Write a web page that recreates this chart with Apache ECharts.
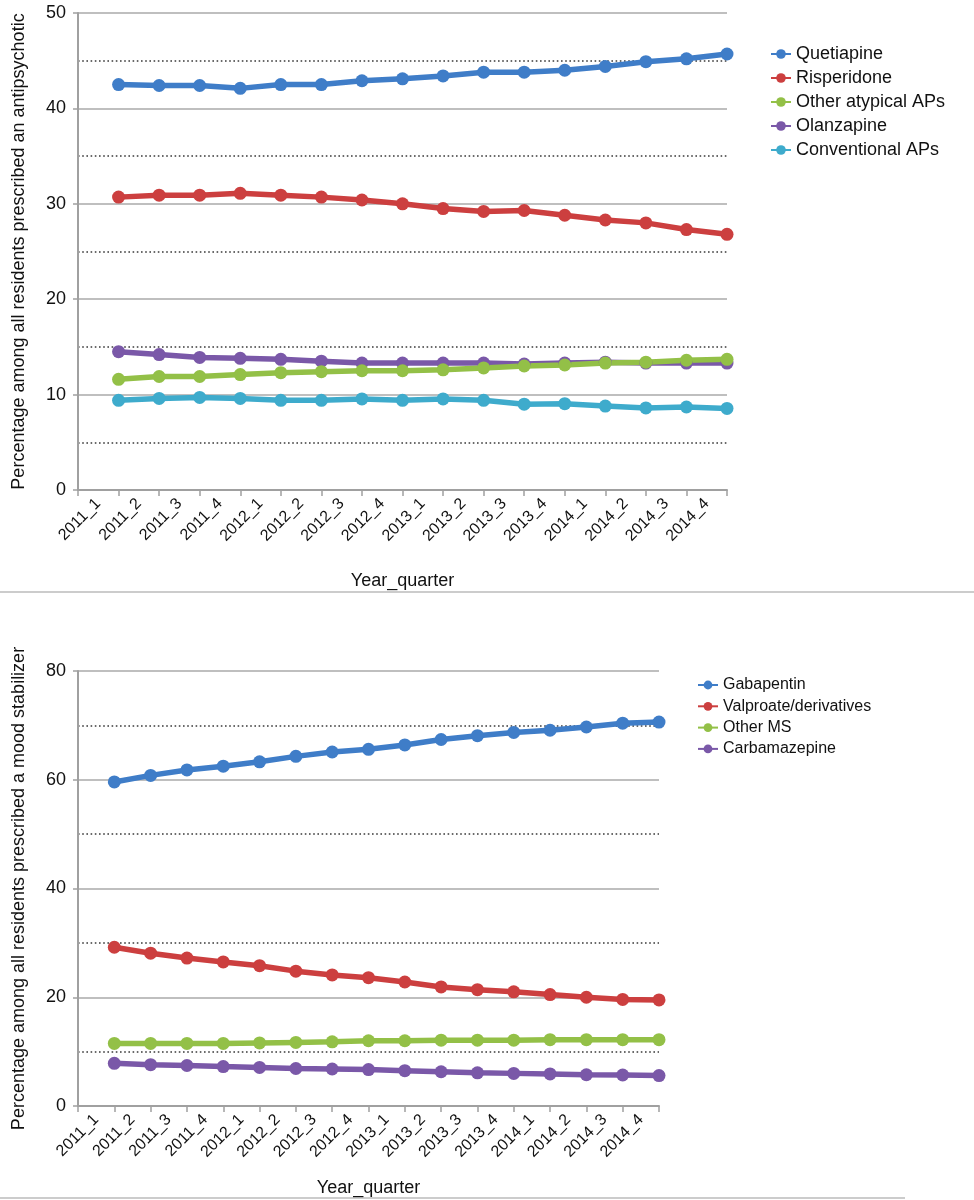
<!DOCTYPE html>
<html>
<head>
<meta charset="utf-8">
<script src="https://cdn.jsdelivr.net/npm/echarts@6/dist/echarts.min.js"></script>
<style>
html,body{margin:0;padding:0;background:#fff;}
#chart{width:974px;height:1200px;}
</style>
</head>
<body>
<div id="chart"></div>
<script>
// ---------- Data ----------
const quarters = ['2011_1','2011_2','2011_3','2011_4','2012_1','2012_2','2012_3','2012_4',
                  '2013_1','2013_2','2013_3','2013_4','2014_1','2014_2','2014_3','2014_4'];

// Top panel: antipsychotics
const apNames = ['Quetiapine','Risperidone','Other atypical APs','Olanzapine','Conventional APs'];
const quetiapine   = [42.5,42.4,42.4,42.1,42.5,42.5,42.9,43.1,43.4,43.8,43.8,44.0,44.4,44.9,45.2,45.7];
const risperidone  = [30.7,30.9,30.9,31.1,30.9,30.7,30.4,30.0,29.5,29.2,29.3,28.8,28.3,28.0,27.3,26.8];
const otherAtyp    = [11.6,11.9,11.9,12.1,12.3,12.4,12.5,12.5,12.6,12.8,13.0,13.1,13.3,13.4,13.6,13.7];
const olanzapine   = [14.5,14.2,13.9,13.8,13.7,13.5,13.3,13.3,13.3,13.3,13.2,13.3,13.4,13.3,13.3,13.3];
const conventional = [9.4,9.6,9.7,9.6,9.4,9.4,9.55,9.4,9.55,9.4,9.0,9.05,8.8,8.6,8.7,8.55];

// Bottom panel: mood stabilizers
const msNames = ['Gabapentin','Valproate/derivatives','Other MS','Carbamazepine'];
const gabapentin    = [59.6,60.8,61.8,62.5,63.3,64.3,65.1,65.6,66.4,67.4,68.1,68.7,69.1,69.7,70.4,70.6];
const valproate     = [29.2,28.1,27.2,26.5,25.8,24.8,24.1,23.6,22.8,21.9,21.4,21.0,20.5,20.0,19.6,19.5];
const otherMS       = [11.5,11.5,11.5,11.5,11.6,11.7,11.8,12.0,12.0,12.1,12.1,12.1,12.2,12.2,12.2,12.2];
const carbamazepine = [7.85,7.6,7.45,7.25,7.1,6.9,6.8,6.7,6.5,6.3,6.1,6.0,5.9,5.75,5.7,5.6];

// Axis ranges
const topYMax = 50, topYStep = 10;
const botYMax = 80, botYStep = 20;

// ---------- Styles ----------
const FONT = '"Liberation Sans", Arial, Helvetica, sans-serif';
const colors = {
  blue:'#3f7dc8', red:'#cc3f3f', green:'#93c047', purple:'#7a58a8', cyan:'#3eabcc'
};
const axisGray = '#a0a0a0';

// points placed at right boundary of each category band (as in the original)
function pts(arr){ return arr.map((v,i)=>[i+1, v]); }

function catAxis(gi, gap){
  return {
    type:'category', gridIndex:gi, data:quarters, boundaryGap:true,
    axisLine:{show:true, lineStyle:{color:axisGray, width:2}},
    axisTick:{show:true, length:6, lineStyle:{color:axisGray, width:1.5}},
    axisLabel:{rotate:45, fontSize:16, color:'#111', fontFamily:FONT, margin:11, interval:0},
    splitLine:{show:false},
    name:'Year_quarter', nameLocation:'middle', nameGap:gap,
    nameTextStyle:{fontSize:18, color:'#111', fontFamily:FONT}
  };
}
function valXAxis(gi){
  return {type:'value', gridIndex:gi, min:0, max:16, show:false};
}
function yAxis(gi, max, step, name){
  return {
    type:'value', gridIndex:gi, min:0, max:max, interval:step,
    axisLine:{show:true, lineStyle:{color:axisGray, width:2}},
    axisTick:{show:true, length:5, lineStyle:{color:axisGray, width:1.5}},
    axisLabel:{fontSize:18, color:'#111', fontFamily:FONT, margin:12},
    splitLine:{show:true, lineStyle:{color:'#aaaaaa', width:1.5}},
    minorTick:{show:false, splitNumber:2},
    minorSplitLine:{show:true, lineStyle:{color:'#3a3a3a', width:1.6, type:[1.6,2.6]}},
    name:name, nameLocation:'middle', nameGap:50,
    nameTextStyle:{fontSize:18, color:'#111', fontFamily:FONT}
  };
}
function lineSeries(name, arr, color, gi){
  return {
    name:name, type:'line', xAxisIndex:gi*2+1, yAxisIndex:gi,
    data:pts(arr), symbol:'circle', symbolSize:13,
    lineStyle:{width:5.5, color:color}, itemStyle:{color:color},
    emphasis:{disabled:true}, animation:false
  };
}

const option = {
  backgroundColor:'#fff',
  animation:false,
  textStyle:{fontFamily:FONT},
  grid:[
    {left:78, right:247, top:13, bottom:710, containLabel:false, outerBoundsMode:'none'},
    {left:78, right:315, top:671, bottom:94, containLabel:false, outerBoundsMode:'none'}
  ],
  xAxis:[catAxis(0, 82), valXAxis(0), catAxis(1, 73), valXAxis(1)],
  yAxis:[
    yAxis(0, topYMax, topYStep, 'Percentage among all residents prescribed an antipsychotic'),
    yAxis(1, botYMax, botYStep, 'Percentage among all residents prescribed a mood stabilizer')
  ],
  legend:[
    {data:apNames, orient:'vertical', left:765, top:40, itemWidth:20, itemHeight:12, itemGap:6,
     textStyle:{fontSize:18, color:'#111', fontFamily:FONT}, selectedMode:false},
    {data:msNames, orient:'vertical', left:692, top:672, itemWidth:20, itemHeight:11, itemGap:5.3,
     textStyle:{fontSize:16, color:'#111', fontFamily:FONT}, selectedMode:false}
  ],
  graphic:[
    {type:'line', shape:{x1:0, y1:592, x2:974, y2:592}, style:{stroke:'#cccccc', lineWidth:2}},
    {type:'line', shape:{x1:0, y1:1198, x2:905, y2:1198}, style:{stroke:'#cccccc', lineWidth:2}}
  ],
  series:[
    lineSeries(apNames[4], conventional, colors.cyan, 0),
    lineSeries(apNames[3], olanzapine, colors.purple, 0),
    lineSeries(apNames[2], otherAtyp, colors.green, 0),
    lineSeries(apNames[1], risperidone, colors.red, 0),
    lineSeries(apNames[0], quetiapine, colors.blue, 0),
    lineSeries(msNames[3], carbamazepine, colors.purple, 1),
    lineSeries(msNames[2], otherMS, colors.green, 1),
    lineSeries(msNames[1], valproate, colors.red, 1),
    lineSeries(msNames[0], gabapentin, colors.blue, 1)
  ]
};

const chart = echarts.init(document.getElementById('chart'), null, {renderer:'canvas'});
chart.setOption(option);
</script>
</body>
</html>
